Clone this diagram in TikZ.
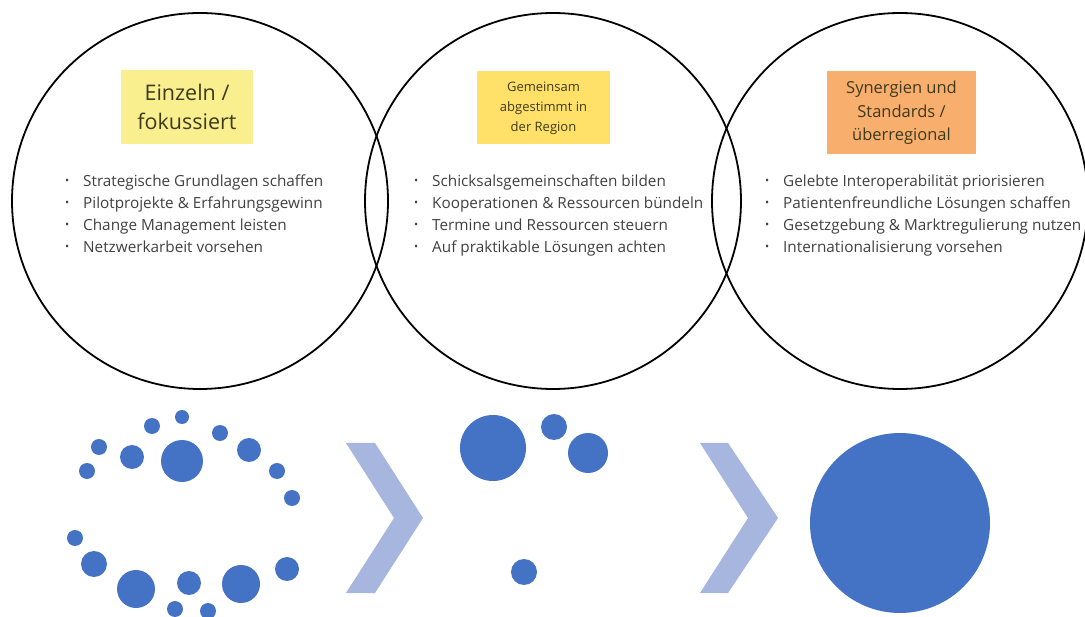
\documentclass[tikz,border=0pt]{standalone}
\usepackage{fontspec}
\setmainfont{Open Sans}
\usetikzlibrary{positioning}
\definecolor{dotblue}{HTML}{4472C4}
\definecolor{chevblue}{HTML}{A7B6DE}
\definecolor{noteA}{HTML}{F9EF8F}
\definecolor{noteB}{HTML}{FFE169}
\definecolor{noteC}{HTML}{F8AE6C}
\definecolor{listgray}{HTML}{404040}
\definecolor{notetext}{HTML}{3D3A1E}
\newcommand{\pkt}{\makebox[18pt][l]{\raisebox{.15em}{\fontsize{11}{11}\selectfont\textbullet}}}

\begin{document}
\begin{tikzpicture}[x=1pt, y=-1pt,
  ring/.style={draw=black, line width=1.8pt},
  note/.style={rectangle, inner sep=0pt, align=center, text=notetext},
  liste/.style={anchor=north west, inner sep=0pt, align=left, text=listgray,
    font=\fontsize{15.3}{22}\selectfont},
  dot/.style={fill=dotblue}]
\useasboundingbox (0,0) rectangle (1085,617);

\draw [ring] (200,201) circle (188);
\draw [ring] (553,201) circle (188);
\draw [ring] (900,201) circle (188);

\node [note, fill=noteA, minimum width=132, minimum height=74,
  font=\fontsize{21.5}{29}\selectfont] (einzeln) at (187,107) {Einzeln /\\fokussiert};
\node [note, fill=noteB, minimum width=133, minimum height=73,
  font=\fontsize{13}{20}\selectfont] (gemeinsam) at (543.5,108) {Gemeinsam\\abgestimmt in\\der Region};
\node [note, fill=noteC, minimum width=149, minimum height=83,
  font=\fontsize{16.5}{23.5}\selectfont] (synergien) at (901.5,113) {Synergien und\\Standards /\\überregional};

\node [liste] (listeA) at (65,175) {\pkt Strategische Grundlagen schaffen\\\pkt Pilotprojekte \& Erfahrungsgewinn\\\pkt Change Management leisten\\\pkt Netzwerkarbeit vorsehen};
\node [liste] (listeB) at (414,175) {\pkt Schicksalsgemeinschaften bilden\\\pkt Kooperationen \& Ressourcen bündeln\\\pkt Termine und Ressourcen steuern\\\pkt Auf praktikable Lösungen achten};
\node [liste] (listeC) at (765,175) {\pkt Gelebte Interoperabilität priorisieren\\\pkt Patientenfreundliche Lösungen schaffen\\\pkt Gesetzgebung \& Marktregulierung nutzen\\\pkt Internationalisierung vorsehen};

\foreach \x/\y/\r in {182/417/7, 152/426/8, 99/447/8, 87/471/8, 132/457/12,
  182/461/21, 220/433/8, 249/450/12, 277/471/8, 292/498/8, 75/538/8,
  94/564/13, 136/589/19, 189/583/12, 241/584/19, 287/569/12, 175/609/8,
  208/611/8}
  \fill [dot] (\x,\y) circle (\r);

\fill [chevblue] (346,443) -- (375,443) -- (423,518) -- (375,593) -- (346,593) -- (394,518) -- cycle;

\foreach \x/\y/\r in {493/448/33, 554/427/13, 588/453/20, 524/572/13}
  \fill [dot] (\x,\y) circle (\r);

\fill [chevblue] (700,443) -- (728,443) -- (778,518) -- (728,593) -- (700,593) -- (748,518) -- cycle;

\fill [dot] (900,523) circle (90);
\end{tikzpicture}
\end{document}
